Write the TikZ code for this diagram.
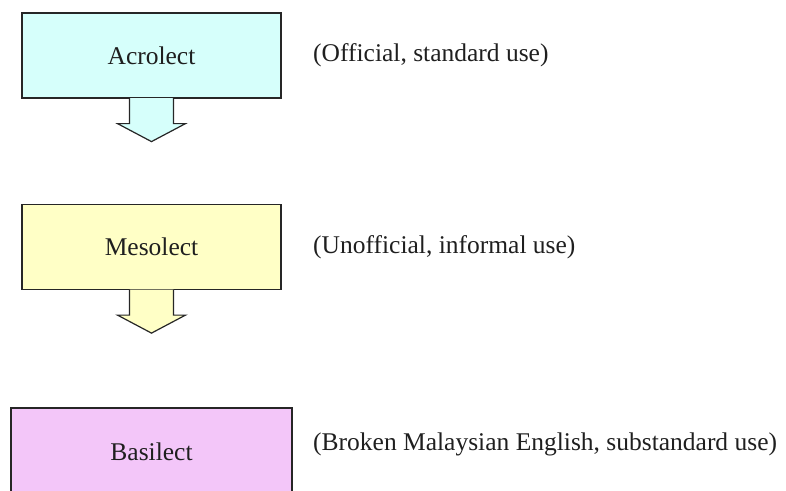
\documentclass[tikz,border=0pt]{standalone}
\usepackage{fontspec}
\setmainfont{Liberation Serif}
\usepackage{tikz}
\usetikzlibrary{positioning, calc}
\definecolor{acrocol}{RGB}{214,255,251}
\definecolor{mesocol}{RGB}{255,255,198}
\definecolor{basicol}{RGB}{243,198,249}
\newcommand{\downarrowshape}[1]{($(#1.south)+(-22,-0.6)$) -- ++(0,25.6) -- ++(-12,0) -- ++(34,18) -- ++(34,-18) -- ++(-12,0) -- ++(0,-25.6)}

\begin{document}
\begin{tikzpicture}[x=1pt, y=-1pt,
      lect/.style={rectangle, draw=black!85, line width=1.2pt, minimum width=259pt, minimum height=85pt, inner sep=0pt, text=black!88, font=\fontsize{25.5}{30}\selectfont},
      note/.style={anchor=west, inner sep=0pt, text=black!88, font=\fontsize{25.5}{30}\selectfont},
      block/.style={draw=black!85, line width=1.2pt, line join=miter}]
      \useasboundingbox (0,0) rectangle (786,490);
      \clip (0,0) rectangle (786,490);

      \node[lect, fill=acrocol] (L1) at (151.5,55.5) {Acrolect};
      \node[lect, fill=mesocol] (L2) at (151.5,247) {Mesolect};
      \node[lect, fill=basicol, minimum width=281pt, minimum height=88pt] (L3) at (151.5,452) {Basilect};

      \node[note] (U1) at (313,55) {(Official, standard use)};
      \node[note] (U2) at (313,247) {(Unofficial, informal use)};
      \node[note] (U3) at (313,444) {(Broken Malaysian English, substandard use)};

      \draw[block, fill=acrocol] \downarrowshape{L1};
      \draw[block, fill=mesocol] \downarrowshape{L2};
    \end{tikzpicture}
\end{document}
